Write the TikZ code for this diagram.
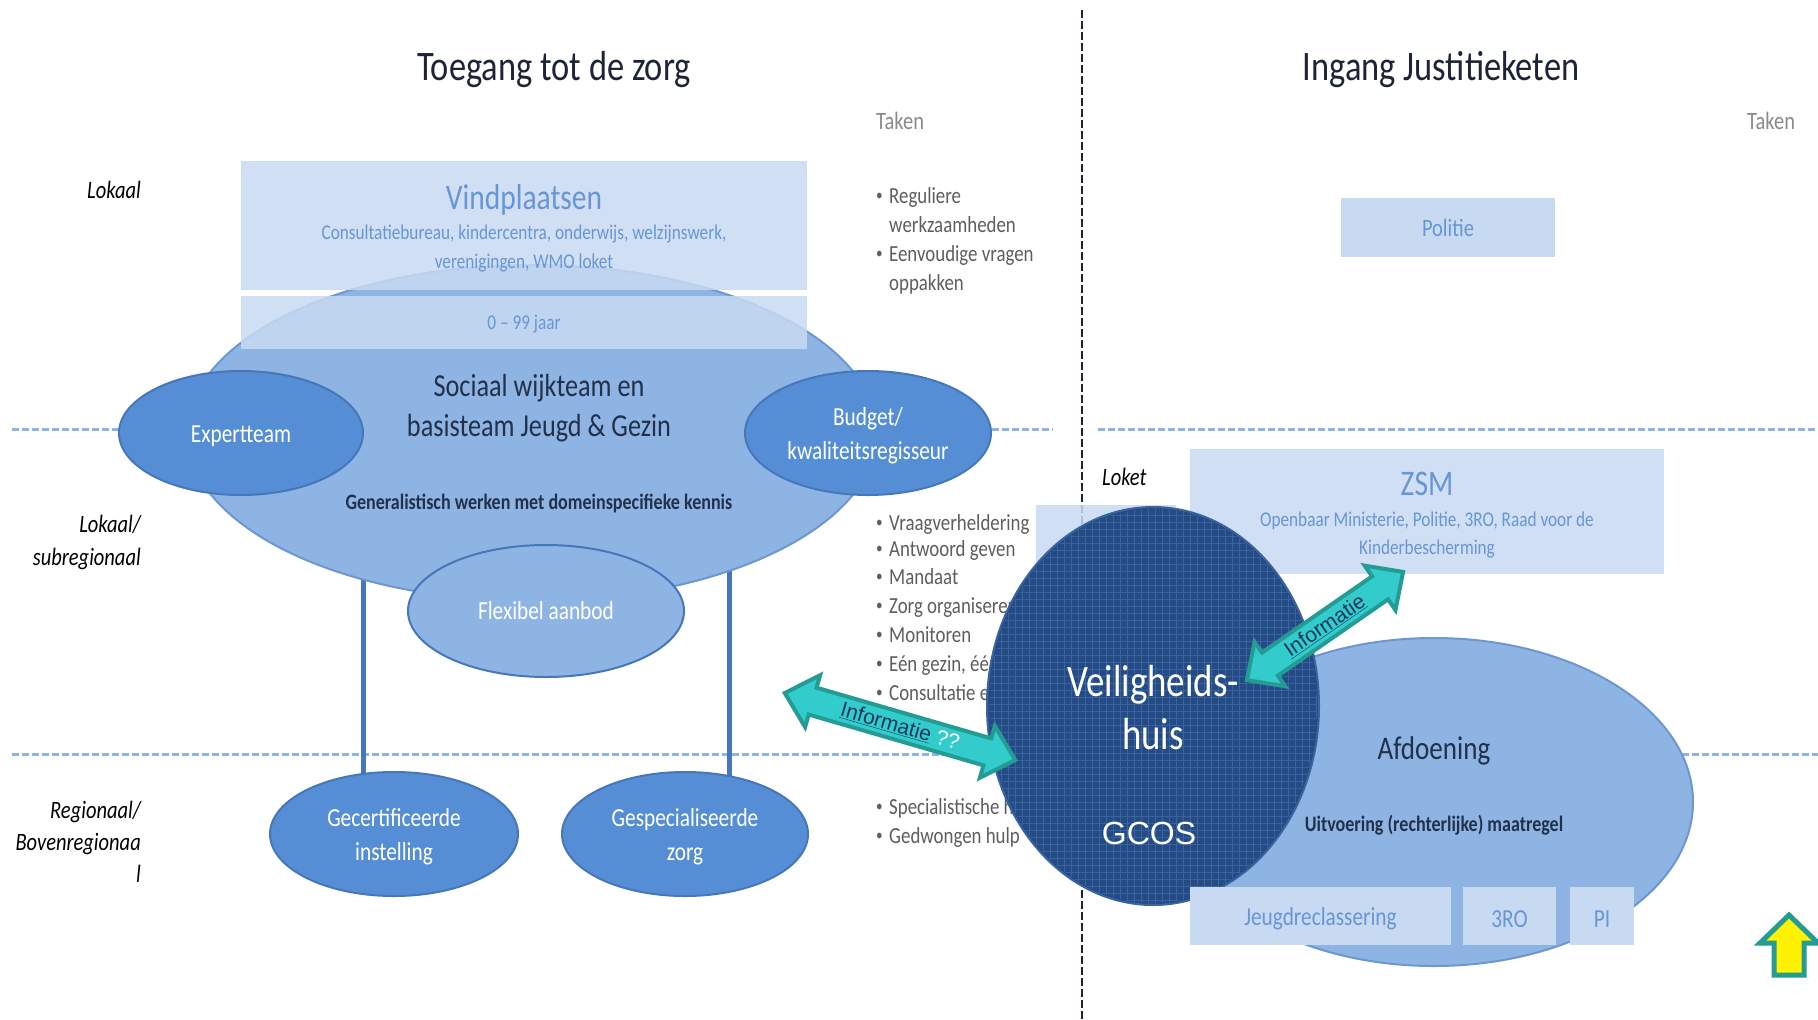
\documentclass[tikz,border=0pt]{standalone}
\usepackage{fontspec}
\setmainfont{Carlito}[FakeStretch=0.82]
\newfontfamily\arialf{Liberation Sans}
\usetikzlibrary{shapes.geometric,patterns.meta}
\definecolor{cLbox}{HTML}{C8DAF2}
\definecolor{cBig}{HTML}{8EB4E3}
\definecolor{cBigB}{HTML}{6D97D0}
\definecolor{cMid}{HTML}{558ED5}
\definecolor{cMidB}{HTML}{4677BA}
\definecolor{cNavy}{HTML}{244B84}
\definecolor{cNavyP}{HTML}{3A64A0}
\definecolor{cTxtBlue}{HTML}{6696D6}
\definecolor{cGray}{HTML}{5E5E5E}
\definecolor{cLGray}{HTML}{8A8A8A}
\definecolor{cTeal}{HTML}{33CCCC}
\definecolor{cTealB}{HTML}{249C94}
\definecolor{cDash}{HTML}{8EB4E3}
\definecolor{cTitle}{HTML}{1E2438}
\definecolor{cDark}{HTML}{22304A}
\definecolor{cLink}{HTML}{17375E}
\newcommand\fsz[2]{\fontsize{#1}{#2}\selectfont}
\newcommand\dn[1]{\raisebox{-3pt}[\height][\depth]{#1}}
\begin{document}
\begin{tikzpicture}[x=1pt,y=-1pt,
  hdash/.style={draw=cDash,line width=3pt,dash pattern=on 7pt off 3pt},
  vdash/.style={draw=cTitle,line width=2.5pt,dash pattern=on 8pt off 3pt},
  conn/.style={draw=cMidB,line width=5pt},
  bigell/.style={ellipse,draw=cBigB,line width=2pt,fill=cBig,inner sep=0pt},
  midell/.style={ellipse,draw=cMidB,line width=2pt,fill=cMid,inner sep=0pt,text=white,align=center,font=\fsz{26}{34}},
  lbox/.style={rectangle,fill=cLbox,inner sep=0pt,text=cTxtBlue},
  tbox/.style={rectangle,fill=cLbox,fill opacity=0.85,inner sep=0pt},
  title/.style={text=cTitle,font=\fsz{42}{50}},
  lvl/.style={anchor=mid east,inner sep=0pt,font=\fsz{25}{30}\itshape,text=black},
  task/.style={anchor=mid west,inner sep=0pt,font=\fsz{23}{28},text=cGray},
  bul/.style={anchor=mid west,inner sep=0pt,font=\fsz{16}{20},text=cGray},
  infoarrow/.style={draw=cTealB,line width=4pt,fill=cTeal,line join=miter},
]
\useasboundingbox (0,0) rectangle (1818,1020);
\fill[white] (0,0) rectangle (1818,1020);

% guide lines
\draw[hdash] (12,429) -- (1053,429);
\draw[hdash] (1098,429) -- (1818,429);
\draw[hdash] (12,754) -- (1818,754);
\draw[vdash] (1082,10) -- (1082,1020);

% titles
\node[title] (t1) at (554,70) {Toegang tot de zorg};
\node[title] (t2) at (1441,70) {Ingang Justitieketen};
\node[anchor=mid west,inner sep=0pt,font=\fsz{25}{30},text=cLGray] (tk1) at (876,127) {Taken};
\node[anchor=mid west,inner sep=0pt,font=\fsz{25}{30},text=cLGray] (tk2) at (1747,127) {Taken};

% level labels
\node[lvl] (l1) at (141,196) {Lokaal};
\node[lvl] (l2) at (141,530) {Lokaal/};
\node[lvl] (l3) at (141,563) {subregionaal};
\node[lvl] (l4) at (141,816) {Regionaal/};
\node[lvl] (l5) at (141,848) {Bovenregionaa};
\node[lvl] (l6) at (141,880) {l};

% task lists
\foreach \y/\b/\t [count=\i] in {
  201/1/Reguliere, 230/0/werkzaamheden, 259/1/Eenvoudige vragen, 288/0/oppakken,
  528/1/Vraagverheldering, 554/1/Antwoord geven, 582/1/Mandaat, 611/1/Zorg organiseren,
  640/1/Monitoren, 669/1/{Eén gezin, één plan}, 698/1/Consultatie en advies,
  812/1/Specialistische hulp, 841/1/Gedwongen hulp}{
  \node[task] (task\i) at (889,\y) {\t};
  \ifnum\b=1 \node[bul] (bul\i) at (876,\y-3) {•};\fi
}

% left: lower ellipses and connecting lines
\coordinate (la) at (363,560);
\coordinate (lb) at (729,560);
\coordinate (lc) at (363,834);
\coordinate (ld) at (729,834);
\draw[conn] (la) -- (lc);
\draw[conn] (lb) -- (ld);
\node[midell,minimum width=248pt,minimum height=124pt] (gc) at (394,834) {\dn{Gecertificeerde}\\\dn{instelling}};
\node[midell,minimum width=246pt,minimum height=124pt] (gs) at (685,834) {\dn{Gespecialiseerde}\\\dn{zorg}};

% big ellipse
\node[bigell,minimum width=690pt,minimum height=336pt] (big) at (532,433) {};
\node[tbox,minimum width=566pt,minimum height=129pt] (vind) at (524,225.5) {};
\node[tbox,minimum width=566pt,minimum height=53pt] (age) at (524,322.5) {};
\node[text=cTxtBlue,font=\fsz{36}{40}] (vindt) at (524,200) {Vindplaatsen};
\node[text=cTxtBlue,font=\fsz{21}{29},align=center] (vinds) at (524,249) {Consultatiebureau, kindercentra, onderwijs, welzijnswerk,\\verenigingen, WMO loket};
\node[text=cTxtBlue,font=\fsz{21}{26}] (aget) at (524,324) {0 – 99 jaar};
\node[text=cDark,font=\fsz{32}{40},align=center] (swt) at (539,408) {Sociaal wijkteam en\\basisteam Jeugd \& Gezin};
\node[text=cDark,font=\fsz{22}{26}\bfseries] (gen) at (539,503) {Generalistisch werken met domeinspecifieke kennis};

\node[midell,minimum width=244pt,minimum height=124pt] (exp) at (241,433) {\dn{Expertteam}};
\node[midell,minimum width=246pt,minimum height=124pt] (bud) at (868,433) {\dn{Budget/}\\\dn{kwaliteitsregisseur}};
\node[bigell,draw=cMidB,minimum width=276pt,minimum height=132pt,text=white,font=\fsz{26}{30}] (flex) at (546,611) {Flexibel aanbod};

% right side
\node[lbox,minimum width=214pt,minimum height=59pt,font=\fsz{25}{30}] (pol) at (1448,227.5) {Politie};
\node[tbox,minimum width=474pt,minimum height=125pt] (zsm) at (1427,511.5) {};
\node[tbox,minimum width=140pt,minimum height=95pt] (lok) at (1106,552.5) {};
\node[text=cTxtBlue,font=\fsz{36}{40}] (zsmt) at (1427,484) {ZSM};
\node[text=cTxtBlue,font=\fsz{21}{28},align=center] (zsms) at (1427,535) {Openbaar Ministerie, Politie, 3RO, Raad voor de\\Kinderbescherming};
\node[anchor=mid west,inner sep=0pt,font=\fsz{25}{30}\itshape] (loket) at (1102,483) {Loket};

\node[bigell,minimum width=518pt,minimum height=328pt] (afd) at (1434,802) {};
\node[text=cDark,font=\fsz{33}{40}] (afdt) at (1434,751) {Afdoening};
\node[text=cDark,font=\fsz{22}{26}\bfseries] (uitv) at (1434,825) {Uitvoering (rechterlijke) maatregel};

\node[ellipse,draw=cNavyP,line width=2pt,fill=cNavy,minimum width=332pt,minimum height=398pt,inner sep=0pt] (vh) at (1153,706) {};
\path[pattern={Hatch[angle=0,distance=7pt,line width=1pt]},pattern color=cNavyP] (1153,706) ellipse [x radius=164, y radius=197];
\node[text=white,font=\fsz{45}{53},align=center] (vht) at (1153,708) {Veiligheids-\\huis};
\node[text=white,font=\arialf\fsz{32}{36}] (gcos) at (1149,833) {GCOS};

\node[lbox,minimum width=261pt,minimum height=58pt,font=\fsz{26}{30}] (jr) at (1320.5,916) {\dn{Jeugdreclassering}};
\node[lbox,minimum width=93pt,minimum height=58pt,font=\fsz{26}{30}] (r3) at (1509.5,916) {\dn{3RO}};
\node[lbox,minimum width=64pt,minimum height=58pt,font=\fsz{26}{30}] (pi) at (1602,916) {\dn{PI}};

% information arrows
\begin{scope}[shift={(900,726.5)},rotate=-16.2]
\draw[infoarrow] (-120,0) -- (-91,27) -- (-91,14) -- (91,14) -- (91,27) -- (120,0) -- (91,-27) -- (91,-14) -- (-91,-14) -- (-91,-27) -- cycle;
\node[transform shape,font=\arialf\fsz{21}{24},inner sep=0pt] (inf1) at (0,0) {\textcolor{cLink}{\underline{Informatie}} \textcolor{white}{??}};
\end{scope}
\begin{scope}[shift={(1325,626)},rotate=34.7]
\draw[infoarrow] (-95,0) -- (-67,27) -- (-67,14) -- (67,14) -- (67,27) -- (95,0) -- (67,-27) -- (67,-14) -- (-67,-14) -- (-67,-27) -- cycle;
\node[transform shape,font=\arialf\fsz{21}{24},inner sep=0pt,text=cLink] (inf2) at (0,0) {\underline{Informatie}};
\end{scope}

% yellow arrow
\draw[draw=cTealB,line width=5pt,fill=yellow,line join=miter] (1789,915) -- (1818,943) -- (1804,943) -- (1804,975) -- (1774,975) -- (1774,943) -- (1760,943) -- cycle;
\end{tikzpicture}
\end{document}
